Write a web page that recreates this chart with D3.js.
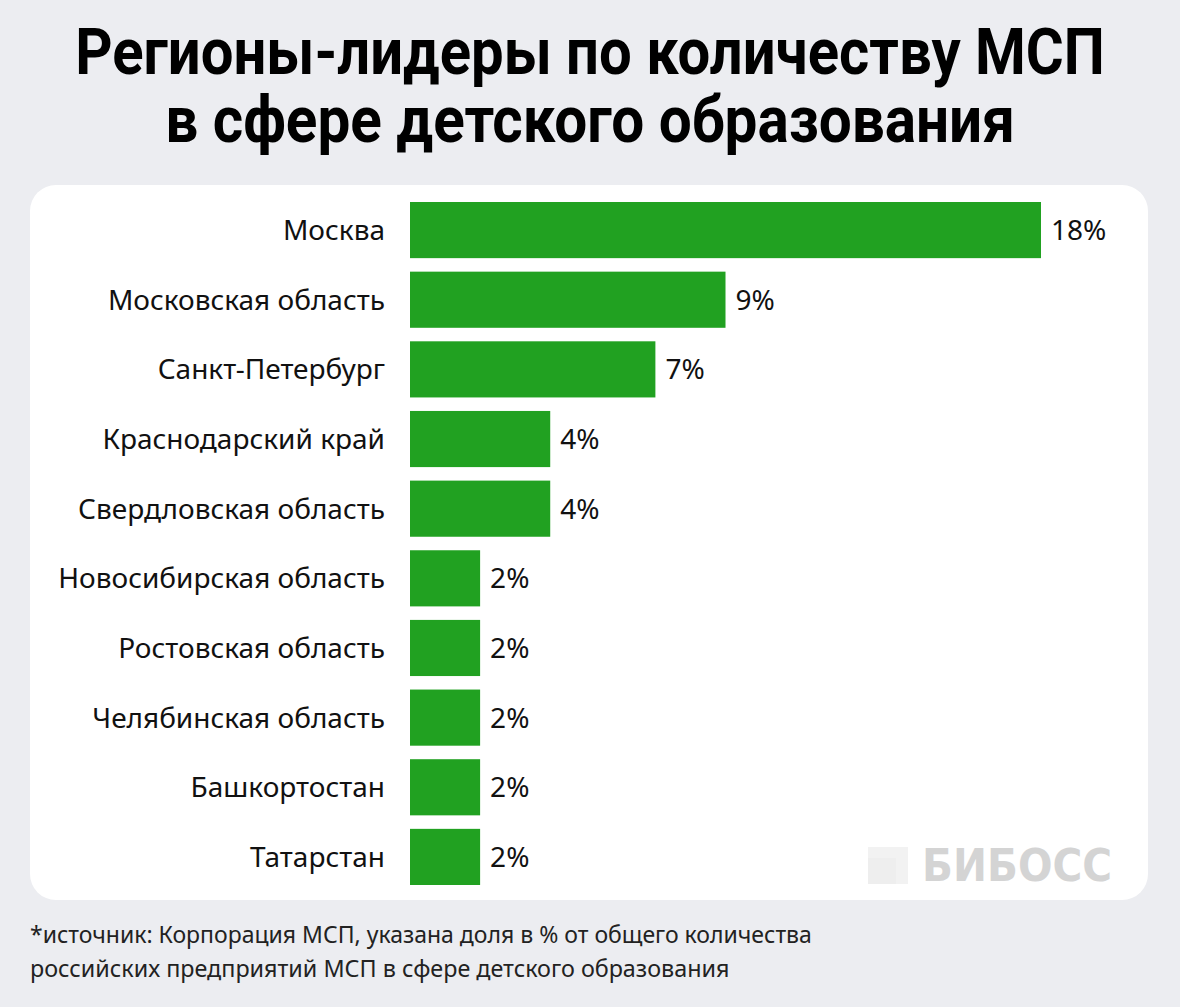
<!DOCTYPE html>
<html>
<head>
<meta charset="utf-8">
<script src="https://cdn.jsdelivr.net/npm/d3@7"></script>
<style>
  html, body { margin: 0; padding: 0; background: #ecedf1; }
  svg { display: block; }
</style>
</head>
<body>
<script>
	// data
	const regions = [
		"Москва", "Московская область", "Санкт-Петербург", "Краснодарский край",
		"Свердловская область", "Новосибирская область", "Ростовская область",
		"Челябинская область", "Башкортостан", "Татарстан"
	];
	const shares = [18, 9, 7, 4, 4, 2, 2, 2, 2, 2];
	const titleLines = ["Регионы-лидеры по количеству МСП", "в сфере детского образования"];
	const noteLines = [
		"*источник: Корпорация МСП, указана доля в % от общего количества",
		"российских предприятий МСП в сфере детского образования"
	];

	const width = 1180, height = 1007;
	const green = "#21a121";

	const svg = d3.select("body")
		.append("svg")
		.attr("width", width)
		.attr("height", height);

	svg.append("rect")
		.attr("width", width).attr("height", height)
		.attr("fill", "#ecedf1");

	// fit a text to a width by scaling it horizontally
	const squeeze = (sel, cx, cy, w) => {
		sel.each(function (d, i) {
			const natural = this.getComputedTextLength();
			const sx = w(d, i) / natural;
			d3.select(this).attr("transform", `translate(${cx}, ${cy(d, i)}) scale(${sx}, 1)`);
		});
	};

	// title
	svg.append("g")
		.selectAll("text")
			.data(titleLines).enter()
		.append("text")
			.attr("text-anchor", "middle")
			.style("font-family", "Roboto, sans-serif")
			.style("font-weight", 700)
			.style("font-size", "64px")
			.style("fill", "#000")
			.text((d) => d)
			.call(squeeze, 590, (d, i) => i ? 142 : 74, (d, i) => i ? 850 : 1030);

	// white panel
	svg.append("rect")
		.attr("x", 30).attr("y", 185)
		.attr("width", 1118).attr("height", 715)
		.attr("rx", 26)
		.attr("fill", "#fff");

	// scales
	const x = d3.scaleLinear().domain([0, 18]).range([410, 1041]);
	const y = d3.scaleBand()
		.domain(regions)
		.range([195.25, 891.75])
		.paddingInner(0.194)
		.paddingOuter(0.097);

	const rows = svg.append("g")
		.selectAll(".row")
			.data(regions).enter()
		.append("g")
			.attr("class", "row");

	rows.append("rect")
		.attr("x", x(0))
		.attr("y", (d) => y(d))
		.attr("width", (d, i) => x(shares[i]) - x(0))
		.attr("height", y.bandwidth())
		.attr("fill", green);

	rows.append("text")
		.attr("x", 385)
		.attr("y", (d) => y(d) + y.bandwidth() / 2)
		.attr("dy", "0.36em")
		.attr("text-anchor", "end")
		.style("font-family", "'Noto Sans', sans-serif")
		.style("font-size", "28px")
		.style("fill", "#111")
		.text((d) => d);

	rows.append("text")
		.attr("x", (d, i) => x(shares[i]) + 10)
		.attr("y", (d) => y(d) + y.bandwidth() / 2)
		.attr("dy", "0.36em")
		.style("font-family", "'Noto Sans', sans-serif")
		.style("font-size", "28px")
		.style("fill", "#111")
		.text((d, i) => shares[i] + "%");

	// watermark
	const wm = svg.append("g");
	wm.append("rect")
		.attr("x", 868).attr("y", 847)
		.attr("width", 40).attr("height", 37)
		.attr("fill", "#f2f2f2");
	wm.append("rect")
		.attr("x", 868).attr("y", 858)
		.attr("width", 28).attr("height", 26)
		.attr("fill", "#eeeeee");
	wm.append("text")
		.attr("x", 922).attr("y", 881)
		.attr("textLength", 190)
		.attr("lengthAdjust", "spacingAndGlyphs")
		.style("font-family", "'DejaVu Sans', sans-serif")
		.style("font-weight", 700)
		.style("font-size", "44px")
		.style("fill", "#d4d4d4")
		.text("БИБОСС");

	// footnote
	svg.append("g")
		.selectAll("text")
			.data(noteLines).enter()
		.append("text")
			.style("font-family", "'Noto Sans', sans-serif")
			.style("font-size", "23px")
			.style("fill", "#222")
			.text((d) => d)
			.call(squeeze, 30, (d, i) => 943 + i * 34, (d, i) => i ? 700 : 782);
</script>
</body>
</html>
